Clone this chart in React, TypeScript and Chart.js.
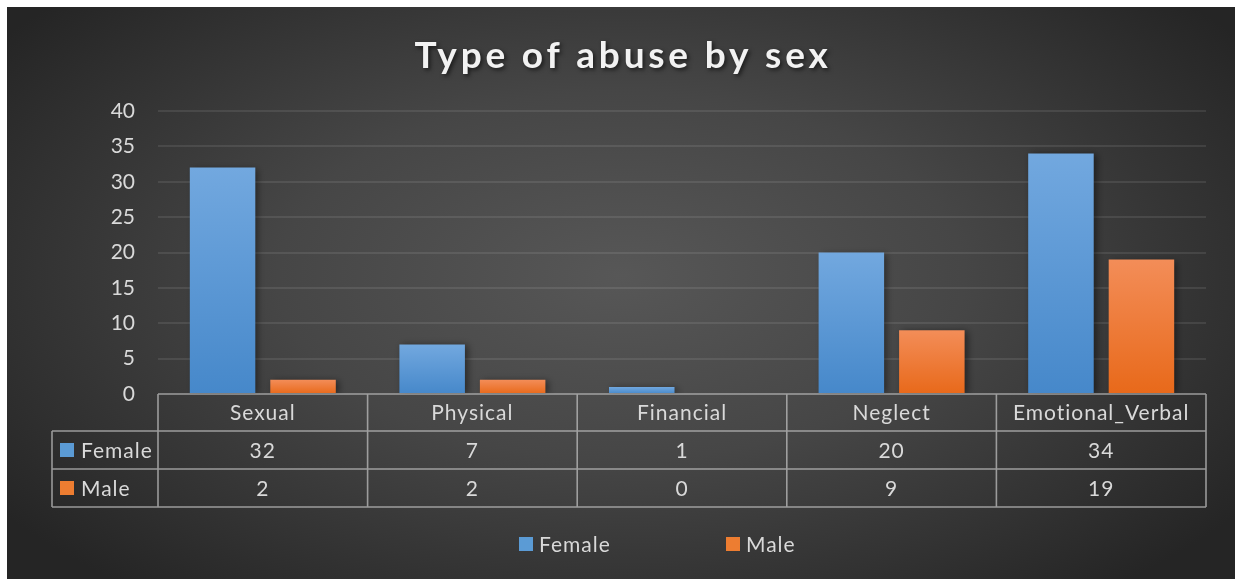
import React, { useEffect, useRef } from "react";
import { Chart, registerables } from "chart.js";

Chart.register(...registerables);

const categories = ["Sexual", "Physical", "Financial", "Neglect", "Emotional_Verbal"];
const femaleValues = [32, 7, 1, 20, 34];
const maleValues = [2, 2, 0, 9, 19];
const seriesNames = ["Female", "Male"];
const yMin = 0;
const yMax = 40;
const yStep = 5;
const titleText = "Type of abuse by sex";

const FONT = "Lato, 'Open Sans', sans-serif";
const TEXT = "#d9d9d9";
const BORDER = "rgba(190,190,190,0.75)";
const FEMALE_TOP = "#72a8df";
const FEMALE_BOT = "#4688ca";
const MALE_TOP = "#f38d58";
const MALE_BOT = "#e8691a";
const FEMALE_KEY = "#5b9bd5";
const MALE_KEY = "#ed7d31";

function barGradient(ctx: any, top: string, bot: string) {
  const chart = ctx.chart;
  const area = chart.chartArea;
  if (!area || ctx.type !== "data") return top;
  const y = chart.scales.y;
  const v = ctx.raw as number;
  const yTop = y.getPixelForValue(v);
  const yBot = y.getPixelForValue(0);
  if (!isFinite(yTop) || yBot - yTop < 1) return bot;
  const g = chart.ctx.createLinearGradient(0, yTop, 0, yBot);
  g.addColorStop(0, top);
  g.addColorStop(1, bot);
  return g;
}

const backgroundPlugin = {
  id: "bgPlugin",
  beforeDraw(chart: any) {
    const { ctx, width, height } = chart;
    ctx.save();
    ctx.translate(width * 0.5, height * 0.47);
    ctx.scale(1, (height / width) * 1.15);
    const r = width * 0.62;
    const g = ctx.createRadialGradient(0, 0, 0, 0, 0, r);
    g.addColorStop(0, "#575757");
    g.addColorStop(0.45, "#464646");
    g.addColorStop(1, "#252525");
    ctx.fillStyle = g;
    ctx.fillRect(-width, -height * 3, width * 2, height * 6);
    ctx.restore();

    // title
    ctx.save();
    ctx.font = `bold 37px ${FONT}`;
    (ctx as any).letterSpacing = "3.8px";
    ctx.textAlign = "center";
    ctx.textBaseline = "alphabetic";
    ctx.shadowColor = "rgba(0,0,0,0.6)";
    ctx.shadowBlur = 4;
    ctx.shadowOffsetX = 2;
    ctx.shadowOffsetY = 2;
    ctx.fillStyle = "#f2f2f2";
    ctx.fillText(titleText, width / 2 + 2, 61);
    ctx.restore();
  },
};

const shadowPlugin = {
  id: "shadowPlugin",
  beforeDatasetsDraw(chart: any) {
    const ctx = chart.ctx;
    ctx.save();
    ctx.shadowColor = "rgba(0,0,0,0.45)";
    ctx.shadowBlur = 7;
    ctx.shadowOffsetX = 3;
    ctx.shadowOffsetY = 1;
  },
  afterDatasetsDraw(chart: any) {
    chart.ctx.restore();
  },
};

const tablePlugin = {
  id: "tablePlugin",
  afterDraw(chart: any) {
    const { ctx, chartArea } = chart;
    const left = chartArea.left;
    const right = chartArea.right;
    const top = chartArea.bottom;
    const n = categories.length;
    const colW = (right - left) / n;
    const headH = 37;
    const rowH = 38;
    const labelLeft = left - 106;
    const r1 = top + headH;
    const r2 = r1 + rowH;
    const r3 = r2 + rowH;

    ctx.save();
    ctx.strokeStyle = BORDER;
    ctx.lineWidth = 1.6;
    ctx.beginPath();
    ctx.moveTo(left, top);
    ctx.lineTo(right, top);
    ctx.moveTo(labelLeft, r1);
    ctx.lineTo(right, r1);
    ctx.moveTo(labelLeft, r2);
    ctx.lineTo(right, r2);
    ctx.moveTo(labelLeft, r3);
    ctx.lineTo(right, r3);
    for (let i = 0; i <= n; i++) {
      const x = left + colW * i;
      ctx.moveTo(x, top);
      ctx.lineTo(x, r3);
    }
    ctx.moveTo(labelLeft, r1);
    ctx.lineTo(labelLeft, r3);
    ctx.stroke();

    ctx.font = `21px ${FONT}`;
    (ctx as any).letterSpacing = "1px";
    ctx.fillStyle = TEXT;
    ctx.textAlign = "center";
    ctx.textBaseline = "middle";
    for (let i = 0; i < n; i++) {
      const cx = left + colW * (i + 0.5);
      ctx.fillText(categories[i], cx, top + headH / 2 + 1);
      ctx.fillText(String(femaleValues[i]), cx, r1 + rowH / 2 + 1);
      ctx.fillText(String(maleValues[i]), cx, r2 + rowH / 2 + 1);
    }
    ctx.textAlign = "left";
    const keys = [FEMALE_KEY, MALE_KEY];
    const rows = [r1, r2];
    for (let k = 0; k < 2; k++) {
      const cy = rows[k] + rowH / 2;
      ctx.fillStyle = keys[k];
      ctx.fillRect(labelLeft + 8, cy - 7, 14, 14);
      ctx.fillStyle = TEXT;
      ctx.fillText(seriesNames[k], labelLeft + 29, cy + 1);
    }

    const ly = 537;
    const items = [
      { x: 512, color: FEMALE_KEY, label: seriesNames[0] },
      { x: 719, color: MALE_KEY, label: seriesNames[1] },
    ];
    for (const it of items) {
      ctx.fillStyle = it.color;
      ctx.fillRect(it.x, ly - 7, 14, 14);
      ctx.fillStyle = TEXT;
      ctx.fillText(it.label, it.x + 20, ly + 1);
    }
    ctx.restore();
  },
};

export default function App() {
  const ref = useRef<HTMLCanvasElement | null>(null);

  useEffect(() => {
    if (!ref.current) return;
    const chart = new Chart(ref.current, {
      type: "bar",
      data: {
        labels: categories,
        datasets: [
          {
            label: seriesNames[0],
            data: femaleValues,
            backgroundColor: (c: any) => barGradient(c, FEMALE_TOP, FEMALE_BOT),
            borderWidth: 0,
          },
          {
            label: seriesNames[1],
            data: maleValues,
            backgroundColor: (c: any) => barGradient(c, MALE_TOP, MALE_BOT),
            borderWidth: 0,
          },
        ],
      },
      options: {
        responsive: false,
        animation: false,
        layout: { padding: { top: 104, bottom: 185, left: 0, right: 29 } },
        datasets: {
          bar: { categoryPercentage: 0.768, barPercentage: 0.814 },
        },
        plugins: {
          legend: { display: false },
          title: { display: false },
          tooltip: { enabled: false },
        },
        scales: {
          x: {
            display: false,
            grid: { display: false },
          },
          y: {
            min: yMin,
            max: yMax,
            afterFit: (s: any) => {
              s.width = 151;
            },
            border: { display: false },
            grid: {
              drawTicks: false,
              color: (c: any) => (c.tick && c.tick.value === 0 ? "rgba(0,0,0,0)" : "rgba(255,255,255,0.09)"),
              lineWidth: 2,
            },
            ticks: {
              stepSize: yStep,
              padding: 23,
              color: TEXT,
              font: { family: FONT, size: 21 },
            },
          },
        },
      },
      plugins: [backgroundPlugin, shadowPlugin, tablePlugin],
    });
    return () => chart.destroy();
  }, []);

  return (
    <div style={{ position: "absolute", left: 7, top: 7, width: 1228, height: 572 }}>
      <canvas ref={ref} width={1228} height={572} style={{ display: "block" }} />
    </div>
  );
}
